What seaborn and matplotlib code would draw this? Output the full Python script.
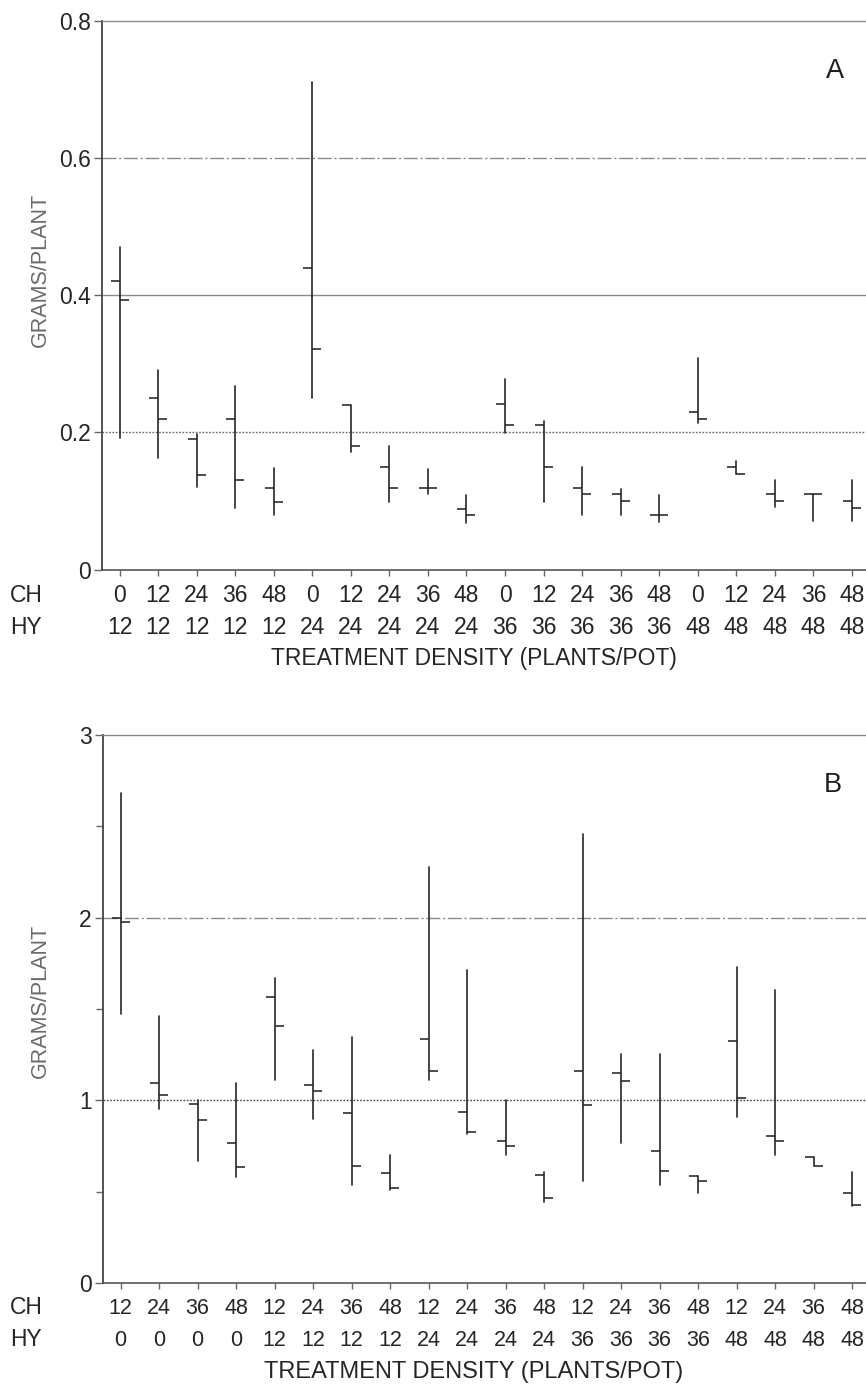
import matplotlib
matplotlib.use("Agg")
import matplotlib.pyplot as plt
import matplotlib.transforms as mtransforms
import seaborn as sns
import pandas as pd

# ---------------- data ----------------
ch_A = [0, 12, 24, 36, 48, 0, 12, 24, 36, 48, 0, 12, 24, 36, 48, 0, 12, 24, 36, 48]
hy_A = [12, 12, 12, 12, 12, 24, 24, 24, 24, 24, 36, 36, 36, 36, 36, 48, 48, 48, 48, 48]
high_A = [0.470, 0.290, 0.198, 0.267, 0.148, 0.711, 0.240, 0.180, 0.147, 0.108,
          0.278, 0.217, 0.149, 0.117, 0.108, 0.308, 0.158, 0.130, 0.110, 0.131]
low_A = [0.192, 0.162, 0.120, 0.089, 0.079, 0.250, 0.171, 0.099, 0.110, 0.068,
         0.199, 0.099, 0.080, 0.080, 0.069, 0.213, 0.139, 0.091, 0.070, 0.070]
left_A = [0.421, 0.250, 0.190, 0.219, 0.119, 0.440, 0.240, 0.149, 0.119, 0.088,
          0.241, 0.210, 0.119, 0.110, 0.079, 0.230, 0.150, 0.110, 0.110, 0.100]
right_A = [0.392, 0.219, 0.138, 0.130, 0.098, 0.322, 0.180, 0.119, 0.119, 0.079,
           0.210, 0.149, 0.110, 0.100, 0.079, 0.219, 0.139, 0.100, 0.110, 0.089]

ch_B = [12, 24, 36, 48, 12, 24, 36, 48, 12, 24, 36, 48, 12, 24, 36, 48, 12, 24, 36, 48]
hy_B = [0, 0, 0, 0, 12, 12, 12, 12, 24, 24, 24, 24, 36, 36, 36, 36, 48, 48, 48, 48]
high_B = [2.683, 1.463, 1.002, 1.094, 1.667, 1.273, 1.346, 0.698, 2.279, 1.715,
          1.002, 0.608, 2.457, 1.254, 1.254, 0.587, 1.730, 1.604, 0.692, 0.608]
low_B = [1.472, 0.950, 0.667, 0.583, 1.111, 0.897, 0.535, 0.507, 1.111, 0.818,
         0.698, 0.444, 0.556, 0.769, 0.535, 0.493, 0.908, 0.702, 0.639, 0.423]
left_B = [1.998, 1.094, 0.979, 0.765, 1.568, 1.084, 0.933, 0.604, 1.338, 0.937,
          0.776, 0.591, 1.159, 1.149, 0.723, 0.587, 1.327, 0.803, 0.692, 0.493]
right_B = [1.975, 1.031, 0.895, 0.633, 1.409, 1.052, 0.639, 0.520, 1.159, 0.824,
           0.748, 0.467, 0.975, 1.105, 0.612, 0.560, 1.013, 0.776, 0.639, 0.426]

yticks_A = [0, 0.2, 0.4, 0.6, 0.8]
yticklabels_A = ["0", "0.2", "0.4", "0.6", "0.8"]
yticks_B = [0, 1, 2, 3]
yticklabels_B = ["0", "1", "2", "3"]

# ---------------- style ----------------
sns.set_style("ticks")
plt.rcParams["font.family"] = ["Liberation Sans", "DejaVu Sans"]

W, H = 866, 1385
fig = plt.figure(figsize=(W / 100, H / 100), dpi=100)
fig.patch.set_facecolor("white")

BAR = "#262626"
TXT = "#262626"
GRID = "#8a8a8a"

x0_px, dx_px = 120.5, 38.5


def px_ax(left, top, bottom, right=885):
    return [left / W, 1 - bottom / H, (right - left) / W, (bottom - top) / H]


def draw_panel(ax, ch, hy, high, low, left, right, ylim, yticks, yticklabels,
               grids, letter, letter_xy, rows_px, ylabel_y_px,
               tick_fs, xlabel_fs, minor=None):
    n = len(high)
    pos = list(range(n))
    df = pd.DataFrame({
        "pos": pos + pos,
        "val": list(low) + list(high),
        "unit": pos + pos,
    })
    sns.lineplot(data=df, x="pos", y="val", units="unit", estimator=None,
                 sort=False, color=BAR, lw=1.2, ax=ax, legend=False)
    ax.plot(pos, left, ls="none", marker=0, ms=6.5, mew=1.15, color=BAR)
    ax.plot(pos, right, ls="none", marker=1, ms=6.5, mew=1.15, color=BAR)

    for yv, ls, col in grids:
        ax.axhline(yv, color=col, lw=1.0, ls=ls, zorder=0)

    ax.set_xlim((103 - x0_px) / dx_px, (885 - x0_px) / dx_px)
    ax.set_ylim(*ylim)
    ax.set_xlabel("")
    ax.set_ylabel("")

    ax.set_xticks(pos)
    ax.set_xticklabels([""] * n)
    ax.set_yticks(yticks)
    ax.set_yticklabels(yticklabels)
    if minor is not None:
        ax.set_yticks(minor, minor=True)
        ax.tick_params(axis="y", which="minor", length=5, width=1.0,
                       color="#666666", direction="out")
    ax.tick_params(axis="x", length=4, width=1.0, color="#666666",
                   direction="out")
    ax.tick_params(axis="y", which="major", length=5.5, width=1.0,
                   color="#666666", pad=2.5, labelsize=16.5,
                   labelcolor=TXT, direction="out")

    ax.spines["right"].set_visible(False)
    ax.spines["top"].set_color(GRID)
    ax.spines["top"].set_linewidth(1.0)
    ax.spines["left"].set_color("#444444")
    ax.spines["left"].set_linewidth(1.3)
    ax.spines["bottom"].set_color("#555555")
    ax.spines["bottom"].set_linewidth(1.2)
    ax.set_facecolor("white")

    trans = mtransforms.blended_transform_factory(ax.transData, fig.transFigure)
    ch_y = 1 - rows_px[0] / H
    hy_y = 1 - rows_px[1] / H
    for i in pos:
        ax.text(i, ch_y, str(ch[i]), transform=trans, ha="center",
                va="center", fontsize=tick_fs, color=TXT)
        ax.text(i, hy_y, str(hy[i]), transform=trans, ha="center",
                va="center", fontsize=tick_fs, color=TXT)
    fig.text(10 / W, ch_y, "CH", ha="left", va="center", fontsize=16.5,
             color=TXT)
    fig.text(10 / W, hy_y, "HY", ha="left", va="center", fontsize=16.5,
             color=TXT)
    fig.text(474 / W, 1 - rows_px[2] / H, "TREATMENT DENSITY (PLANTS/POT)",
             ha="center", va="center", fontsize=xlabel_fs, color=TXT)
    fig.text(40 / W, 1 - ylabel_y_px / H, "GRAMS/PLANT", rotation=90,
             ha="center", va="center", fontsize=15.5, color="#6a6a6a")
    fig.text(letter_xy[0] / W, 1 - letter_xy[1] / H, letter, ha="center",
             va="center", fontsize=19.5, color="#1e1e1e")


dashdot = (0, (10, 2, 1.5, 2))
dotted = (0, (1.2, 1.2))

axA = fig.add_axes(px_ax(102, 20.5, 569.5))
draw_panel(axA, ch_A, hy_A, high_A, low_A, left_A, right_A,
           (0, 0.8), yticks_A, yticklabels_A,
           [(0.6, dashdot, GRID), (0.4, "-", GRID), (0.2, dotted, "#666666")],
           "A", (835, 71), (595, 628, 659), 270, 16.5, 16.5)

axB = fig.add_axes(px_ax(103, 735, 1283))
draw_panel(axB, ch_B, hy_B, high_B, low_B, left_B, right_B,
           (0, 3), yticks_B, yticklabels_B,
           [(2, dashdot, GRID), (1, dotted, "#444444")],
           "B", (833, 785), (1308, 1340, 1372), 1001, 15.5, 17,
           minor=[0.5, 1.5, 2.5])

fig.savefig("out.png", dpi=100, facecolor="white")
